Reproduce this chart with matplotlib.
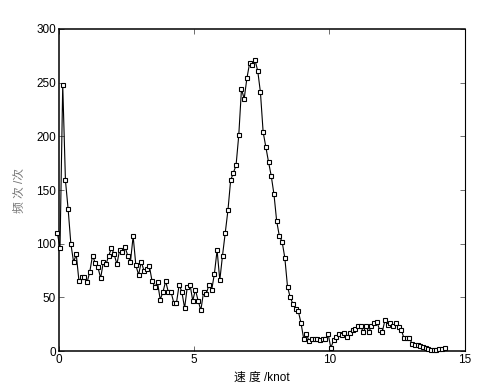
import numpy as np
import matplotlib
matplotlib.use('Agg')
import matplotlib.pyplot as plt

plt.rcParams['font.family'] = ['Liberation Sans', 'Noto Sans CJK SC', 'DejaVu Sans']

# frequency per 0.1 knot speed bin
freq = [110, 96, 248, 159, 132, 100, 83, 90, 65, 69,
        69, 64, 74, 89, 82, 78, 68, 83, 81, 89,
        96, 90, 81, 94, 92, 97, 89, 83, 107, 80,
        71, 83, 75, 76, 79, 65, 60, 64, 48, 55,
        65, 55, 55, 45, 45, 62, 55, 40, 60, 62,
        47, 57, 47, 38, 55, 53, 62, 57, 72, 94,
        66, 89, 110, 131, 159, 166, 173, 201, 244, 235,
        254, 268, 266, 271, 261, 241, 204, 190, 176, 163,
        146, 121, 107, 102, 87, 60, 50, 44, 39, 37,
        26, 11, 16, 9, 11, 11, 11, 10, 11, 11,
        16, 3, 10, 13, 16, 15, 17, 13, 17, 20,
        21, 23, 23, 18, 23, 18, 23, 26, 27, 20,
        18, 29, 24, 26, 23, 26, 22, 20, 12, 12,
        12, 7, 6, 6, 5, 4, 3, 2, 1, 1,
        1, 2, 2, 3]
speed_start = -0.05
speed_step = 0.1
speed = speed_start + speed_step * np.arange(len(freq))

x_ticks = [0, 5, 10, 15]
y_ticks = [0, 50, 100, 150, 200, 250, 300]

fig = plt.figure(figsize=(4.93, 3.91), dpi=100)
ax = fig.add_axes([0.119, 0.102, 0.824, 0.824])

ax.plot(speed, freq, color='black', lw=0.8, marker='s', markersize=3.2,
        markerfacecolor='white', markeredgecolor='black', markeredgewidth=0.8,
        clip_on=False, zorder=3)

ax.set_xlim(0, 15)
ax.set_ylim(0, 300)
ax.set_xticks(x_ticks)
ax.set_yticks(y_ticks)
ax.tick_params(direction='in', length=3.5, width=0.6, labelsize=8.5,
               top=True, right=True, colors='#555555', labelcolor='black', pad=2)
for s in ax.spines.values():
    s.set_linewidth(1.1)
    s.set_color('black')
ax.spines['right'].set_linewidth(0.8)

ax.set_xlabel('速 度 /knot', fontsize=8.5, labelpad=4)
ax.set_ylabel('频 次 /次', fontsize=8.5, color='#777777', labelpad=7)

fig.savefig('out.png', dpi=100)
